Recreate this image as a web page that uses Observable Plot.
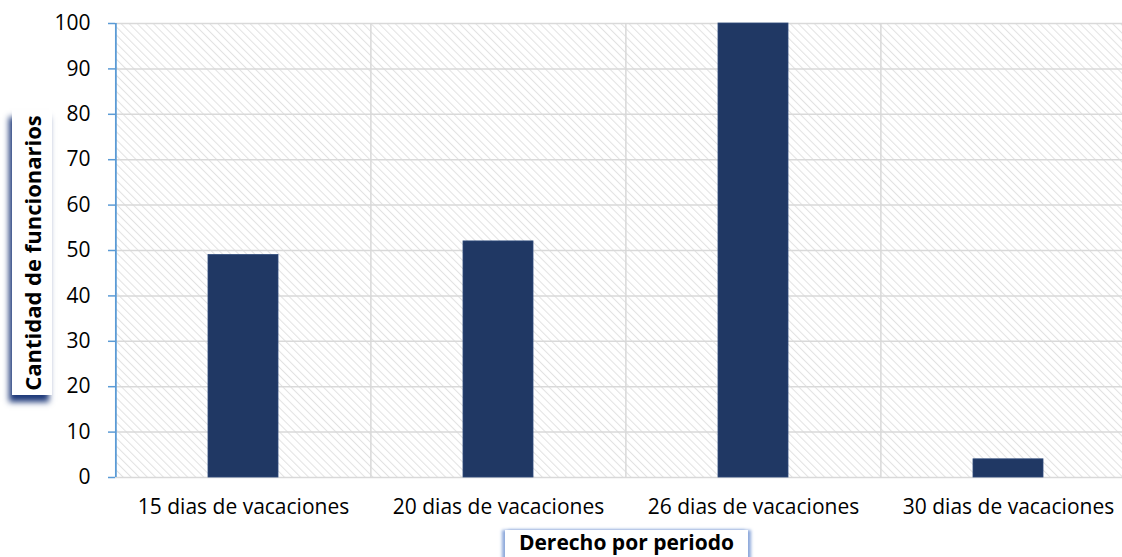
<!DOCTYPE html>
<html>
<head>
<meta charset="utf-8">
<script src="https://cdn.jsdelivr.net/npm/d3@7"></script>
<script src="https://cdn.jsdelivr.net/npm/@observablehq/plot@0.6"></script>
<style>
  html, body { margin: 0; padding: 0; background: #fff; }
  #wrap { position: relative; width: 1122px; height: 557px; overflow: hidden; font-family: "Open Sans", sans-serif; }
  #wrap svg text { font-size: 21px; fill: #000; }
  .ylab {
    position: absolute; left: 12px; top: 110px; width: 40px; height: 285px;
    background: #fff; box-shadow: -3px 7px 6px #1f3a7a;
  }
  .ylab span {
    position: absolute; left: 50%; top: 50%; transform: translate(-50%, -50%) rotate(-90deg);
    white-space: nowrap; font-weight: bold; font-size: 22px; color: #000;
  }
  .xlab {
    position: absolute; left: 505px; top: 530px; width: 243px; height: 34px;
    background: #fff; box-shadow: -3px 0 3px #8ea9db, 3px 0 3px #8ea9db;
    text-align: center; font-weight: bold; font-size: 21px; line-height: 24px; color: #000;
  }
</style>
</head>
<body>
<div id="wrap"></div>
<script>
const categories = ["15 dias de vacaciones", "20 dias de vacaciones", "26 dias de vacaciones", "30 dias de vacaciones"];
const values = [49, 52, 100, 4];
const yTicks = [0, 10, 20, 30, 40, 50, 60, 70, 80, 90, 100];
const yTitle = "Cantidad de funcionarios";
const xTitle = "Derecho por periodo";

const data = categories.map((c, i) => ({cat: c, value: values[i]}));

const W = 1122, H = 557, mL = 115, mR = 0, mT = 23, mB = 80;
const xRange = [115, 1136];
const step = (xRange[1] - xRange[0]) / categories.length;

const plot = Plot.plot({
  width: W, height: H,
  marginLeft: mL, marginRight: mR, marginTop: mT, marginBottom: mB,
  style: {fontFamily: "'Open Sans', sans-serif", fontSize: "21px", color: "#000", background: "transparent"},
  x: {domain: categories, range: xRange, paddingInner: 0.725, paddingOuter: 0.3625, label: null},
  y: {domain: [0, 100], label: null},
  marks: [
    Plot.frame({fill: "url(#hatch)", stroke: "none"}),
    Plot.gridY(yTicks, {stroke: "#d9d9d9", strokeOpacity: 1, strokeWidth: 1.5}),
    Plot.ruleX(categories.slice(1), {dx: -step / 2, stroke: "#d9d9d9", strokeWidth: 1.5}),
    Plot.barY(data, {x: "cat", y: "value", fill: "#203864", stroke: "#2d4a7a", strokeWidth: 0.8}),
    Plot.axisY(yTicks, {tickSize: 7, tickPadding: 18, stroke: "#5b9bd5", strokeWidth: 1.5, label: null}),
    Plot.ruleX([categories[0]], {dx: -step / 2, stroke: "#5b9bd5", strokeWidth: 1.8}),
    Plot.axisX({tickSize: 0, tickPadding: 22, label: null})
  ]
});

const svg = d3.select(plot);
const defs = svg.insert("defs", ":first-child");
const P = 5.7;
const pat = defs.append("pattern")
  .attr("id", "hatch").attr("patternUnits", "userSpaceOnUse")
  .attr("width", P).attr("height", P).attr("patternTransform", "rotate(-45)");
pat.append("rect").attr("width", P).attr("height", P).attr("fill", "#fff");
pat.append("line").attr("x1", 0).attr("y1", 0).attr("x2", 0).attr("y2", P)
  .attr("stroke", "#e2e2e2").attr("stroke-width", 2);

const wrap = document.getElementById("wrap");
wrap.appendChild(plot);
const yl = document.createElement("div");
yl.className = "ylab";
yl.innerHTML = "<span></span>";
yl.querySelector("span").textContent = yTitle;
wrap.appendChild(yl);
const xl = document.createElement("div");
xl.className = "xlab";
xl.textContent = xTitle;
wrap.appendChild(xl);
</script>
</body>
</html>
